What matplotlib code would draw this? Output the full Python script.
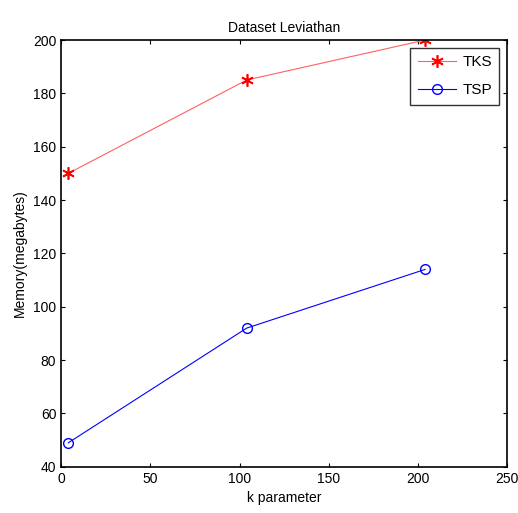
import matplotlib
matplotlib.use("Agg")
import matplotlib.pyplot as plt

plt.rcParams['font.family'] = ['Liberation Sans', 'DejaVu Sans']

k = [4, 104, 204]
tks = [150, 185, 200]
tsp = [49, 92, 114]

fig = plt.figure(figsize=(5.18, 5.13), dpi=100)
ax = fig.add_axes([0.118, 0.090, 0.861, 0.832])
ax.plot(k, tks, color='#ff6060', lw=0.8, marker=(6, 2, 0), markersize=9,
        markeredgecolor='red', markerfacecolor='red', markeredgewidth=1.2,
        label='TKS')
ax.plot(k, tsp, color='blue', lw=0.8, marker='o', markersize=7,
        markerfacecolor='none', markeredgecolor='blue', label='TSP')
ax.set_xlim(0, 250)
ax.set_ylim(40, 200)
ax.set_xticks([0, 50, 100, 150, 200, 250])
ax.set_yticks(range(40, 201, 20))
ax.tick_params(direction='in', top=True, right=True, labelsize=10, length=3)
for s in ax.spines.values():
    s.set_linewidth(1.2)
ax.set_title('Dataset Leviathan', fontsize=10)
ax.set_xlabel('k parameter', fontsize=10)
ax.set_ylabel('Memory(megabytes)', fontsize=10)
leg = ax.legend(loc='upper right', fancybox=False, edgecolor='black',
                fontsize=11, borderaxespad=0.5, handlelength=2.5,
                handletextpad=0.4, labelspacing=0.9, borderpad=0.5)
leg.get_frame().set_linewidth(1.0)
fig.savefig('out.png', dpi=100)
